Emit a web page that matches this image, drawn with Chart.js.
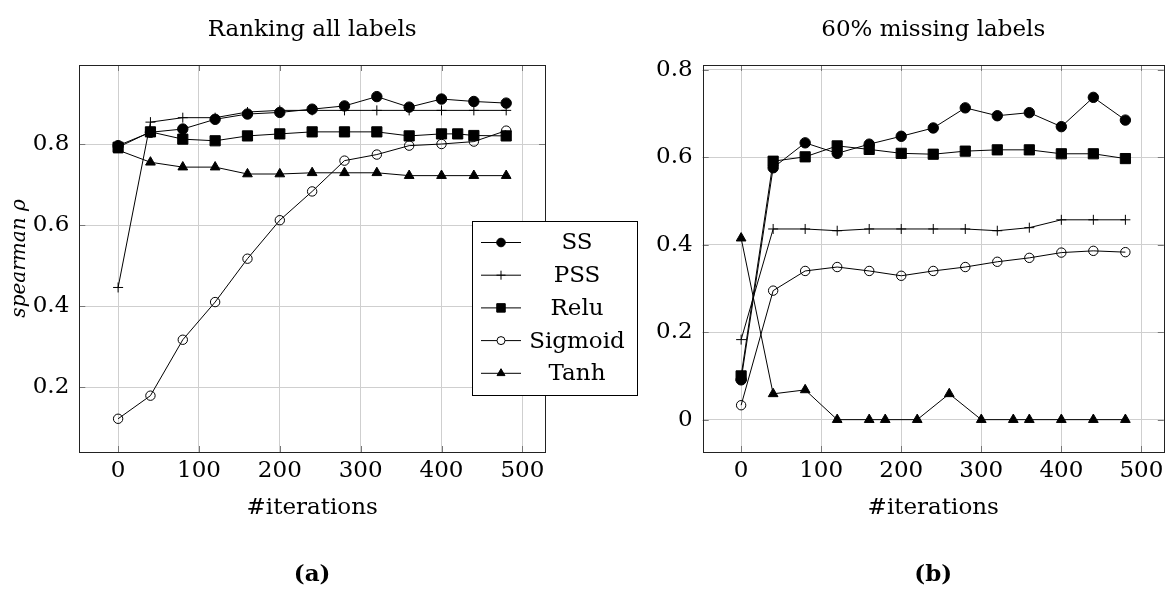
<!DOCTYPE html>
<html><head><meta charset="utf-8">
<script src="https://cdn.jsdelivr.net/npm/chart.js@4.4.1/dist/chart.umd.min.js"></script>
<style>
html,body{margin:0;padding:0;background:#fff;width:1171px;height:601px;overflow:hidden;position:relative}
canvas{position:absolute;top:0}
#cA{left:0}
#cB{left:590px}
</style></head><body>
<canvas id="cA" width="650" height="601"></canvas>
<canvas id="cB" width="582" height="601"></canvas>
<script>
// ---------------- data ----------------
const seriesNames = ['SS', 'PSS', 'Relu', 'Sigmoid', 'Tanh'];

// (a) Ranking all labels
const iterA      = [0, 40, 80, 120, 160, 200, 240, 280, 320, 360, 400, 440, 480];
const iterReluA  = [0, 40, 80, 120, 160, 200, 240, 280, 320, 360, 400, 420, 440, 480];
const ssA      = [0.796, 0.829, 0.837, 0.861, 0.874, 0.878, 0.886, 0.894, 0.917, 0.891, 0.911, 0.905, 0.901];
const pssA     = [0.446, 0.854, 0.865, 0.865, 0.879, 0.883, 0.883, 0.883, 0.883, 0.883, 0.883, 0.883, 0.883];
const reluA    = [0.792, 0.830, 0.812, 0.808, 0.820, 0.825, 0.830, 0.830, 0.830, 0.820, 0.825, 0.825, 0.821, 0.820];
const sigmoidA = [0.122, 0.179, 0.317, 0.410, 0.517, 0.612, 0.683, 0.759, 0.774, 0.796, 0.800, 0.806, 0.833];
const tanhA    = [0.785, 0.755, 0.743, 0.743, 0.726, 0.726, 0.729, 0.729, 0.729, 0.722, 0.722, 0.722, 0.722];

// (b) 60% missing labels
const iterB      = [0, 40, 80, 120, 160, 200, 240, 280, 320, 360, 400, 440, 480];
const iterTanhB  = [0, 40, 80, 120, 160, 180, 220, 260, 300, 340, 360, 400, 440, 480];
const ssB      = [0.091, 0.576, 0.633, 0.609, 0.630, 0.648, 0.667, 0.713, 0.695, 0.702, 0.670, 0.737, 0.685];
const pssB     = [0.183, 0.436, 0.436, 0.432, 0.436, 0.436, 0.436, 0.436, 0.432, 0.439, 0.457, 0.457, 0.457];
const reluB    = [0.100, 0.591, 0.601, 0.626, 0.618, 0.609, 0.607, 0.614, 0.617, 0.617, 0.608, 0.608, 0.597];
const sigmoidB = [0.033, 0.295, 0.340, 0.349, 0.340, 0.329, 0.340, 0.349, 0.361, 0.370, 0.382, 0.386, 0.383];
const tanhB    = [0.415, 0.059, 0.068, 0, 0, 0, 0, 0.059, 0, 0, 0, 0, 0, 0];

// ticks and texts
const xTicks  = [0, 100, 200, 300, 400, 500];
const yTicksA = [0.2, 0.4, 0.6, 0.8];
const yTicksB = [0, 0.2, 0.4, 0.6, 0.8];
const titleA = 'Ranking all labels';
const titleB = '60% missing labels';
const xTitle = '#iterations';
const yTitle = 'spearman ρ';
const captionA = '(a)';
const captionB = '(b)';

// ---------------- styles ----------------
const FONT = '"DejaVu Serif", "Liberation Serif", serif';
const FS = 23;
const LH = FS * 1.2;
const markers = [
  {pointStyle: 'circle',   radius: 5.2, fill: '#000', lr: 4.3},
  {pointStyle: 'cross',    radius: 5,   fill: '#000', lr: 4.5},
  {pointStyle: 'rect',     radius: 7.2, fill: '#000', lr: 6},
  {pointStyle: 'circle',   radius: 4.7, fill: 'rgba(0,0,0,0)', lfill: '#fff', lr: 4},
  {pointStyle: 'triangle', radius: 5.6, fill: '#000', lr: 4.6}
];

const pairs = (xs, ys) => xs.map((x, i) => ({x: x, y: ys[i]}));

function makeDatasets(list) {
  return list.map((pts, i) => ({
    label: seriesNames[i],
    data: pts,
    borderColor: '#000',
    borderWidth: 1,
    backgroundColor: markers[i].fill,
    pointStyle: markers[i].pointStyle,
    pointRadius: markers[i].radius,
    pointHoverRadius: markers[i].radius,
    pointBackgroundColor: markers[i].fill,
    pointBorderColor: '#000',
    pointBorderWidth: 1,
    tension: 0,
    fill: false,
    order: 5 - i
  }));
}

// frame + inward tick marks
const framePlugin = {
  id: 'frame',
  beforeDatasetsDraw(chart) {
    const {ctx, chartArea: a, scales} = chart;
    ctx.save();
    ctx.strokeStyle = '#777';
    ctx.lineWidth = 1;
    const L = 6;
    ctx.beginPath();
    scales.x.ticks.forEach(t => {
      const px = Math.round(scales.x.getPixelForValue(t.value)) + 0.5;
      ctx.moveTo(px, a.bottom); ctx.lineTo(px, a.bottom - L);
      ctx.moveTo(px, a.top); ctx.lineTo(px, a.top + L);
    });
    scales.y.ticks.forEach(t => {
      const py = Math.round(scales.y.getPixelForValue(t.value)) + 0.5;
      ctx.moveTo(a.left, py); ctx.lineTo(a.left + L, py);
      ctx.moveTo(a.right, py); ctx.lineTo(a.right - L, py);
    });
    ctx.stroke();
    ctx.strokeStyle = '#222';
    ctx.strokeRect(Math.round(a.left) + 0.5, Math.round(a.top) + 0.5,
                   Math.round(a.right) - Math.round(a.left), Math.round(a.bottom) - Math.round(a.top));
    ctx.restore();
  }
};

function drawMarker(ctx, m, x, y) {
  const H = Chart.helpers;
  ctx.fillStyle = m.lfill || m.fill;
  ctx.strokeStyle = '#000';
  ctx.lineWidth = 1;
  if (H && H.drawPoint) {
    H.drawPoint(ctx, {pointStyle: m.pointStyle, radius: m.lr, borderWidth: 1, rotation: 0}, x, y);
  } else {
    ctx.beginPath(); ctx.arc(x, y, m.lr, 0, Math.PI * 2); ctx.fill(); ctx.stroke();
  }
}

const legendPlugin = {
  id: 'boxLegend',
  afterDraw(chart, args, opts) {
    if (!opts || !opts.show) return;
    const {ctx} = chart;
    const bx = 472.5, by = 221.5, bw = 165, bh = 174;
    ctx.save();
    ctx.fillStyle = '#fff';
    ctx.fillRect(bx, by, bw, bh);
    ctx.strokeStyle = '#000';
    ctx.lineWidth = 1;
    ctx.strokeRect(bx, by, bw, bh);
    ctx.font = FS + 'px ' + FONT;
    ctx.textAlign = 'center';
    ctx.textBaseline = 'middle';
    seriesNames.forEach((name, i) => {
      const y = 242.5 + i * 32.7;
      ctx.beginPath();
      ctx.strokeStyle = '#000';
      ctx.lineWidth = 1;
      ctx.moveTo(481, y); ctx.lineTo(521, y);
      ctx.stroke();
      drawMarker(ctx, markers[i], 501, y);
      ctx.fillStyle = '#000';
      ctx.fillText(name, 577, y + 1);
    });
    ctx.restore();
  }
};

function makeOptions(cfg) {
  return {
    responsive: false,
    animation: false,
    events: [],
    layout: {padding: {left: 0, right: cfg.padRight, top: 0, bottom: 601 - 588.8}},
    plugins: {
      legend: {display: false},
      tooltip: {enabled: false},
      title: {
        display: true, text: cfg.title, fullSize: false, color: '#000',
        font: {family: FONT, size: FS, weight: 'normal', lineHeight: 1.2},
        padding: {top: 30 - LH / 2, bottom: 65 - (30 - LH / 2) - LH}
      },
      subtitle: {
        display: true, text: cfg.caption, position: 'bottom', fullSize: false, color: '#000',
        font: {family: FONT, size: FS, weight: 'bold', lineHeight: 1.2},
        padding: {top: 575 - LH / 2 - 532, bottom: 0}
      },
      boxLegend: {show: cfg.legend}
    },
    scales: {
      x: {
        type: 'linear', min: -48, max: 528,
        afterBuildTicks: s => { s.ticks = xTicks.map(v => ({value: v})); },
        afterFit: s => { s.height = 80; },
        ticks: {color: '#000', padding: 471.5 - 452 - LH / 2, font: {family: FONT, size: FS}, maxRotation: 0,
                callback: v => String(v)},
        grid: {color: '#cfcfcf', lineWidth: 1, drawTicks: false},
        border: {display: false},
        title: {display: true, text: xTitle, color: '#000',
                font: {family: FONT, size: FS}, padding: {top: 0, bottom: 532 - LH / 2 - 508}}
      },
      y: {
        type: 'linear', min: cfg.ymin, max: cfg.ymax,
        afterBuildTicks: s => { s.ticks = cfg.yTicks.map(v => ({value: v})); },
        afterFit: s => { s.width = cfg.yWidth; },
        ticks: {color: '#000', padding: 10, font: {family: FONT, size: FS},
                callback: v => String(+v.toFixed(2))},
        grid: {color: '#cfcfcf', lineWidth: 1, drawTicks: false},
        border: {display: false},
        title: {display: !!cfg.yTitle, text: cfg.yTitle || '', color: '#000',
                font: {family: FONT, size: 20, style: 'italic'}, padding: {top: 8, bottom: 0}}
      }
    }
  };
}

new Chart(document.getElementById('cA'), {
  type: 'line',
  data: {datasets: makeDatasets([
    pairs(iterA, ssA), pairs(iterA, pssA), pairs(iterReluA, reluA),
    pairs(iterA, sigmoidA), pairs(iterA, tanhA)
  ])},
  options: makeOptions({title: titleA, caption: captionA, yTicks: yTicksA, ymin: 0.04, ymax: 0.995,
                        yTitle: yTitle, yWidth: 79.3, padRight: 105, legend: true}),
  plugins: [framePlugin, legendPlugin]
});

new Chart(document.getElementById('cB'), {
  type: 'line',
  data: {datasets: makeDatasets([
    pairs(iterB, ssB), pairs(iterB, pssB), pairs(iterB, reluB),
    pairs(iterB, sigmoidB), pairs(iterTanhB, tanhB)
  ])},
  options: makeOptions({title: titleB, caption: captionB, yTicks: yTicksB, ymin: -0.074, ymax: 0.811,
                        yTitle: null, yWidth: 112.7, padRight: 3, legend: false}),
  plugins: [framePlugin, legendPlugin]
});
</script>
</body></html>
